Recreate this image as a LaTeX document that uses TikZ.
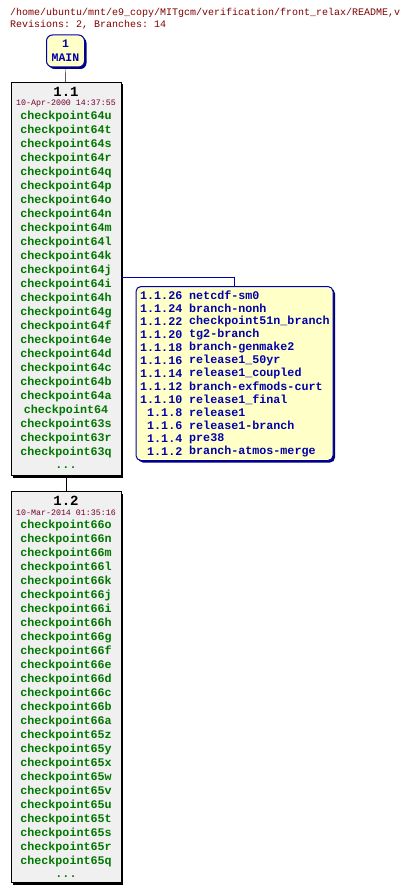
\documentclass[tikz,border=0pt]{standalone}
\usepackage{fontspec}
\setmonofont{Liberation Mono}
\usetikzlibrary{shadows}

\definecolor{titlered}{RGB}{128,0,0}
\definecolor{datered}{RGB}{112,0,40}
\definecolor{taggreen}{RGB}{0,120,0}
\definecolor{branchblue}{RGB}{0,0,170}
\definecolor{boxgray}{RGB}{240,240,240}
\definecolor{boxyellow}{RGB}{255,255,200}

\tikzset{
  revbox/.style={draw=black, line width=1pt, fill=boxgray, minimum width=110pt,
    anchor=north, inner sep=0pt,
    drop shadow={shadow xshift=2pt, shadow yshift=-2pt, fill=black, opacity=1}},
  brbox/.style={draw=branchblue, line width=1pt, fill=boxyellow, rounded corners=5pt,
    minimum width=197pt, minimum height=174pt, anchor=north, inner sep=0pt,
    drop shadow={shadow xshift=2pt, shadow yshift=-2pt, fill=branchblue!70!black, opacity=1}},
  mainbox/.style={draw=branchblue, line width=1pt, fill=boxyellow, rounded corners=6pt,
    minimum width=38pt, minimum height=32pt, inner sep=0pt, align=center,
    text=branchblue, font=\ttfamily\bfseries\fontsize{11.5}{14}\selectfont,
    drop shadow={shadow xshift=2pt, shadow yshift=-2pt, fill=branchblue!70!black, opacity=1}},
  titletext/.style={anchor=west, inner sep=0pt, text=titlered, font=\ttfamily\fontsize{10}{12}\selectfont},
  revnum/.style={inner sep=0pt, font=\ttfamily\bfseries\fontsize{14}{16}\selectfont},
  revdate/.style={inner sep=0pt, text=datered, font=\ttfamily\fontsize{8.3}{10}\selectfont},
  tagtext/.style={inner sep=0pt, text=taggreen, font=\ttfamily\bfseries\fontsize{11.7}{14}\selectfont},
  brnum/.style={anchor=east, inner sep=0pt, text=branchblue, font=\ttfamily\bfseries\fontsize{11.7}{13}\selectfont},
  brname/.style={anchor=west, inner sep=0pt, text=branchblue, font=\ttfamily\bfseries\fontsize{11.7}{13}\selectfont},
}

\begin{document}
\begin{tikzpicture}[x=1pt,y=-1pt]
\useasboundingbox[fill=white] (0,0) rectangle (410,893);

\node[titletext] (path) at (10,13) {/home/ubuntu/mnt/e9\_copy/MITgcm/verification/front\_relax/README,v};
\node[titletext] (count) at (10,25) {Revisions: 2, Branches: 14};

\node[mainbox] (main) at (65.5,51) {1\\MAIN};

% revision 1.1
\node[revbox, minimum height=393pt] (r11) at (66,82) {};
\node[revnum] (r11num) at (66,92) {1.1};
\node[revdate] (r11date) at (66,104) {10-Apr-2000 14:37:55};
\foreach \t [count=\i from 0] in {checkpoint64u,checkpoint64t,checkpoint64s,checkpoint64r,
  checkpoint64q,checkpoint64p,checkpoint64o,checkpoint64n,checkpoint64m,checkpoint64l,
  checkpoint64k,checkpoint64j,checkpoint64i,checkpoint64h,checkpoint64g,checkpoint64f,
  checkpoint64e,checkpoint64d,checkpoint64c,checkpoint64b,checkpoint64a,checkpoint64,
  checkpoint63s,checkpoint63r,checkpoint63q}
  \node[tagtext] (r11t\i) at (66,{116+14*\i}) {\t};
\node[tagtext] (r11more) at (66,468) {...};

% revision 1.2
\node[revbox, minimum height=391pt] (r12) at (66,491) {};
\node[revnum] (r12num) at (66,501) {1.2};
\node[revdate] (r12date) at (66,513) {10-Mar-2014 01:35:16};
\foreach \t [count=\i from 0] in {checkpoint66o,checkpoint66n,checkpoint66m,checkpoint66l,
  checkpoint66k,checkpoint66j,checkpoint66i,checkpoint66h,checkpoint66g,checkpoint66f,
  checkpoint66e,checkpoint66d,checkpoint66c,checkpoint66b,checkpoint66a,checkpoint65z,
  checkpoint65y,checkpoint65x,checkpoint65w,checkpoint65v,checkpoint65u,checkpoint65t,
  checkpoint65s,checkpoint65r,checkpoint65q}
  \node[tagtext] (r12t\i) at (66,{525+14*\i}) {\t};
\node[tagtext] (r12more) at (66,877) {...};

% branches of 1.1
\node[brbox] (br) at (234.5,286) {};
\foreach \n/\b [count=\i from 0] in {1.1.26/netcdf-sm0, 1.1.24/branch-nonh,
  1.1.22/checkpoint51n\_branch, 1.1.20/tg2-branch, 1.1.18/branch-genmake2,
  1.1.16/release1\_50yr, 1.1.14/release1\_coupled, 1.1.12/branch-exfmods-curt,
  1.1.10/release1\_final, 1.1.8/release1, 1.1.6/release1-branch, 1.1.4/pre38,
  1.1.2/branch-atmos-merge}
{
  \node[brnum] (brn\i) at (182.5,{295.5+13*\i}) {\n};
  \node[brname] (brb\i) at (189,{295.5+13*\i}) {\b};
}

\coordinate (brk) at (121,277);
\draw (main) -- (r11);
\draw (r11) -- (r12);
\draw[branchblue] (brk) -| (br.north);
\end{tikzpicture}
\end{document}
